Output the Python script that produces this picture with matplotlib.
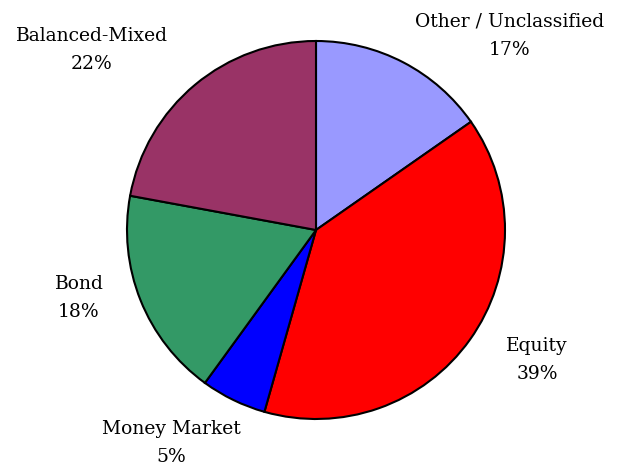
import matplotlib.pyplot as plt

# fund categories, clockwise from 12 o'clock
categories = ["Other / Unclassified", "Equity", "Money Market", "Bond", "Balanced-Mixed"]
shares = [15.3, 39.1, 5.6, 17.9, 22.1]
pct_labels = ["17%", "39%", "5%", "18%", "22%"]
colors = ["#9999FF", "#FF0000", "#0000FF", "#339966", "#993366"]

# label text positions (pixels, from top-left)
label_pos = [(510, 36), (537, 360), (171, 443), (79, 298), (92, 50)]

fig = plt.figure(figsize=(6.28, 4.68), dpi=100)
ax = fig.add_axes([0, 0, 1, 1])

ax.pie(shares, colors=colors, startangle=90, counterclock=False,
       center=(316, 468 - 230), radius=189,
       wedgeprops=dict(edgecolor="black", linewidth=1.5))
ax.set_xlim(0, 628)
ax.set_ylim(0, 468)
ax.set_aspect("equal")
ax.axis("off")

for name, pct, (x, y) in zip(categories, pct_labels, label_pos):
    ax.text(x, 468 - y, name + "\n" + pct, ha="center", va="center",
            fontsize=13.5, family="DejaVu Serif", linespacing=1.75)

fig.savefig("out.png", dpi=100)
